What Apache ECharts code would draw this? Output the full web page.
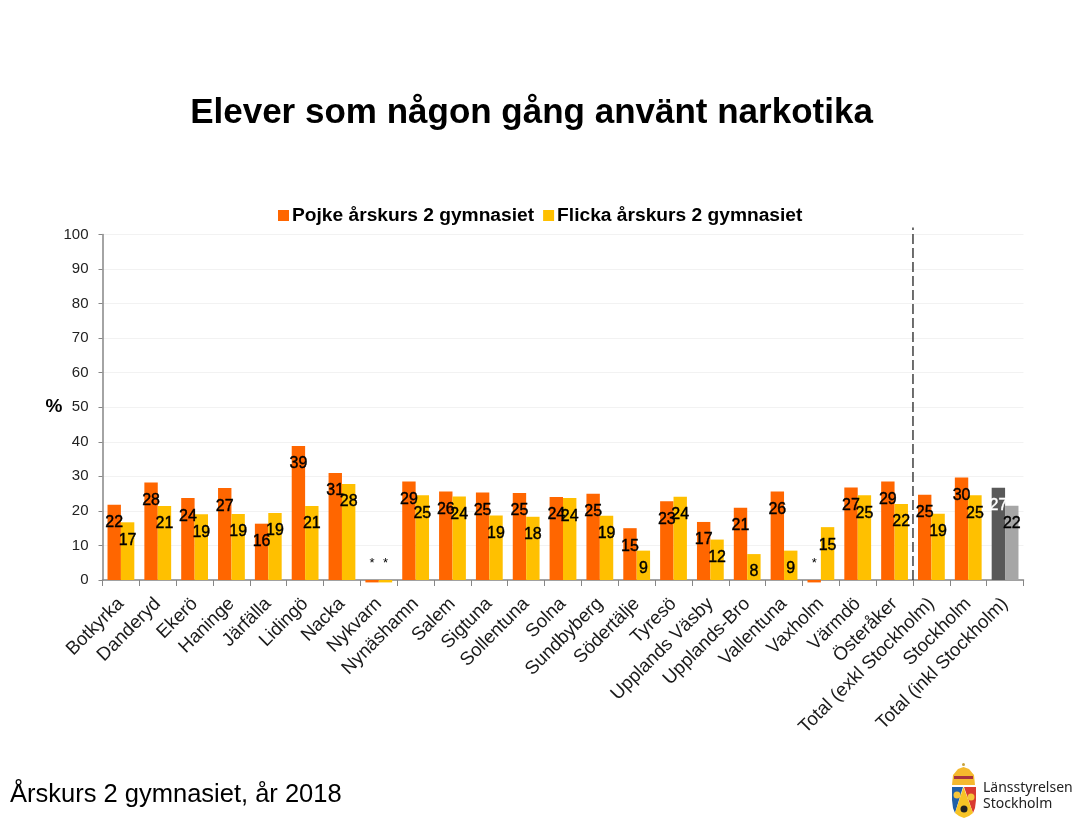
<!DOCTYPE html>
<html>
<head>
<meta charset="utf-8">
<title>Elever som någon gång använt narkotika</title>
<script src="https://cdn.jsdelivr.net/npm/echarts@6/dist/echarts.min.js"></script>
<style>
  html, body { margin: 0; padding: 0; background: #fff; }
  #chart { width: 1085px; height: 819px; }
</style>
</head>
<body>
<div id="chart"></div>
<script>
var kommuner = ["Botkyrka", "Danderyd", "Ekerö", "Haninge", "Järfälla", "Lidingö", "Nacka", "Nykvarn", "Nynäshamn", "Salem", "Sigtuna", "Sollentuna", "Solna", "Sundbyberg", "Södertälje", "Tyresö", "Upplands Väsby", "Upplands-Bro", "Vallentuna", "Vaxholm", "Värmdö", "Österåker", "Total (exkl Stockholm)", "Stockholm", "Total (inkl Stockholm)"];
// negativa värden = för få svar, visas som * i bilden
var pojke = [21.8, 28.2, 23.7, 26.6, 16.3, 38.8, 31, -0.7, 28.5, 25.6, 25.3, 25.2, 24, 25, 15, 22.8, 16.8, 20.9, 25.6, -0.7, 26.8, 28.5, 24.7, 29.7, 26.7];
var flicka = [16.7, 21.4, 19, 19.1, 19.4, 21.4, 27.8, -0.7, 24.5, 24.2, 18.7, 18.3, 23.7, 18.6, 8.5, 24.1, 11.7, 7.5, 8.5, 15.3, 24.5, 22, 19.2, 24.5, 21.5];
var yTicks = { min: 0, max: 100, interval: 10 };
var avdelare = [[22, 0], [22, 102]];

var pojkeNamn = "Pojke årskurs 2 gymnasiet";
var flickaNamn = "Flicka årskurs 2 gymnasiet";
var sista = kommuner.length - 1;

function serieData(values, lastColor, lastLabelColor) {
  return values.map(function (v, i) {
    var item = { value: v };
    if (v < 0) {
      item.label = { position: ["50%", -17], fontSize: 13, textBorderWidth: 0 };
    }
    if (i === sista) {
      item.itemStyle = { color: lastColor };
      item.label = { color: lastLabelColor, textBorderColor: lastLabelColor };
    }
    return item;
  });
}

function stapel(name, color, values, lastColor, lastLabelColor) {
  return {
    name: name,
    type: "bar",
    clip: false,
    barWidth: 13.4,
    barGap: 0,
    itemStyle: { color: color },
    label: {
      show: true,
      position: ["50%", 18],
      align: "center",
      verticalAlign: "middle",
      fontFamily: "Liberation Sans",
      fontSize: 16,
      color: "#000",
      textBorderColor: "#000",
      textBorderWidth: 0.4,
      formatter: function (p) {
        return p.value < 0 ? "*" : Math.round(p.value);
      }
    },
    data: serieData(values, lastColor, lastLabelColor)
  };
}

var myChart = echarts.init(document.getElementById("chart"));

var option = {
  animation: false,
  backgroundColor: "#fff",
  textStyle: { fontFamily: "Liberation Sans" },
  title: {
    text: "Elever som någon gång använt narkotika",
    left: 526.5,
    top: 91,
    textAlign: "center",
    textStyle: { fontFamily: "Liberation Sans", fontWeight: "bold", fontSize: 35, color: "#000" }
  },
  legend: {
    top: 201,
    left: 273,
    itemWidth: 11,
    itemHeight: 11,
    itemGap: 9,
    icon: "rect",
    textStyle: { fontFamily: "Liberation Sans", fontWeight: "bold", fontSize: 19.2, color: "#000", padding: [0, 0, 0, -2] },
    data: [pojkeNamn, flickaNamn]
  },
  grid: { left: 102.5, right: 61.5, top: 234.5, bottom: 239, containLabel: false },
  xAxis: [
    {
      type: "category",
      data: kommuner,
      axisLine: { onZero: false, lineStyle: { color: "#868686", width: 1.5 } },
      axisTick: { show: true, length: 6, alignWithLabel: false, lineStyle: { color: "#868686" } },
      axisLabel: {
        interval: 0,
        rotate: 45,
        margin: 21,
        fontSize: 18.7,
        color: "#1a1a1a"
      }
    },
    { type: "value", min: 0, max: 25, show: false }
  ],
  yAxis: {
    type: "value",
    min: yTicks.min,
    max: yTicks.max,
    interval: yTicks.interval,
    name: "%",
    nameLocation: "middle",
    nameRotate: 0,
    nameGap: 40,
    nameMoveOverlap: false,
    nameTextStyle: { fontFamily: "Liberation Sans", fontWeight: "bold", fontSize: 19, color: "#000", padding: [6, 0, 0, 0] },
    axisLine: { show: true, lineStyle: { color: "#868686", width: 1.5 } },
    axisTick: { show: true, length: 4, lineStyle: { color: "#868686" } },
    axisLabel: { fontSize: 15, color: "#222", margin: 14 },
    splitLine: { lineStyle: { color: "#f2f2f2" } }
  },
  series: [
    stapel(pojkeNamn, "#ff6600", pojke, "#595959", "#fff"),
    stapel(flickaNamn, "#ffc000", flicka, "#a6a6a6", "#000"),
    {
      type: "line",
      xAxisIndex: 1,
      clip: false,
      silent: true,
      symbol: "none",
      lineStyle: { color: "#404040", width: 1.5, type: [10, 4] },
      data: avdelare
    }
  ],
  graphic: [
    {
      type: "text",
      left: 10,
      top: 782,
      style: { text: "Årskurs 2 gymnasiet, år 2018", fontFamily: "Liberation Sans", fontSize: 25.5, fill: "#000" }
    },
    {
      // länsstyrelsens logotyp
      type: "group",
      left: 952,
      top: 763,
      children: [
        { type: "circle", shape: { cx: 12.5, cy: 1.5, r: 1.5 }, style: { fill: "#c8a23c" } },
        { type: "polygon", shape: { points: [[1, 22], [2, 12], [7, 6], [12.5, 4], [18, 6], [23, 12], [24, 22]] }, style: { fill: "#f5b92e" } },
        { type: "rect", shape: { x: 3, y: 13, width: 19, height: 3 }, style: { fill: "#a8323e" } },
        { type: "polygon", shape: { points: [[1, 24], [12, 24], [4, 50], [2, 45], [1, 37]] }, style: { fill: "#1f5fa8" } },
        { type: "polygon", shape: { points: [[13, 24], [25, 24], [25, 37], [24, 45], [22, 50]] }, style: { fill: "#d93a30" } },
        { type: "polygon", shape: { points: [[12.5, 24], [22, 50], [18, 53], [13, 55], [8, 53], [4, 50]] }, style: { fill: "#f7c325" } },
        { type: "circle", shape: { cx: 13, cy: 46, r: 3.5 }, style: { fill: "#222" } },
        { type: "circle", shape: { cx: 6, cy: 32, r: 3.5 }, style: { fill: "#f5c53a" } },
        { type: "circle", shape: { cx: 20, cy: 34, r: 3.5 }, style: { fill: "#f5c53a" } }
      ]
    },
    {
      type: "text",
      left: 983,
      top: 780,
      style: { text: "Länsstyrelsen\nStockholm", fontFamily: "Noto Sans", fontSize: 14, lineHeight: 16, fill: "#222" }
    }
  ]
};

myChart.setOption(option);
</script>
</body>
</html>
